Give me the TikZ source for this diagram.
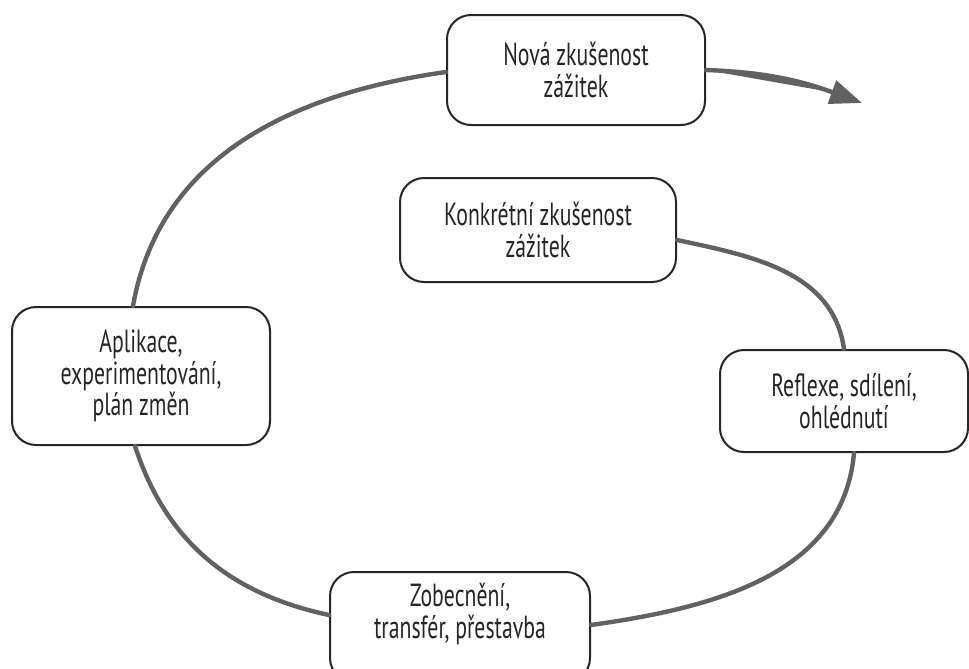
\documentclass[tikz,border=0pt]{standalone}
\usepackage{fontspec}
\setmainfont{PT Sans}[FakeStretch=0.68]
\usetikzlibrary{arrows.meta}
\tikzset{
  box/.style={draw=black!85,line width=1pt,rounded corners=12pt,fill=white,align=center,
    font=\fontsize{16}{15.8}\selectfont,text=black!85,inner sep=0pt},
  cyc/.style={draw=black!62,line width=2.2pt}
}
\begin{document}
\begin{tikzpicture}[x=0.5pt,y=-0.5pt,line join=round,line cap=round,>={Triangle[length=16pt,width=12pt]}]
\useasboundingbox(0,0)rectangle(969,669);
% boxes
\node[box,minimum width=129pt,minimum height=55pt](nova)at(576,70){Nová zkušenost\\zážitek};
\node[box,minimum width=138pt,minimum height=52pt](konk)at(538,230){Konkrétní zkušenost\\zážitek};
\node[box,minimum width=129pt,minimum height=69pt](apl)at(141,376){Aplikace,\\experimentování,\\plán změn};
\node[box,minimum width=124pt,minimum height=51pt](refl)at(844,401){Reflexe, sdílení,\\ohlédnutí};
\node[box,minimum width=130pt,minimum height=55pt,text depth=16pt](zob)at(460,627){Zobecnění,\\transfér, přestavba};
\coordinate(tip)at(862,103);
% cycle
\draw[cyc]([yshift=-5pt]konk.east)to[out=-12,in=98](refl.north);
\draw[cyc]([xshift=5pt]refl.south)to[out=-95,in=8]([yshift=1pt]zob.east);
\draw[cyc]([yshift=6pt]zob.west)to[out=168,in=-72]([xshift=-3pt]apl.south);
\draw[cyc]([xshift=-4pt]apl.north)to[out=80,in=188]([yshift=-1pt]nova.west);
\draw[cyc,->,fill=black!62](nova.east)to[out=-2,in=160](tip);
\end{tikzpicture}
\end{document}
